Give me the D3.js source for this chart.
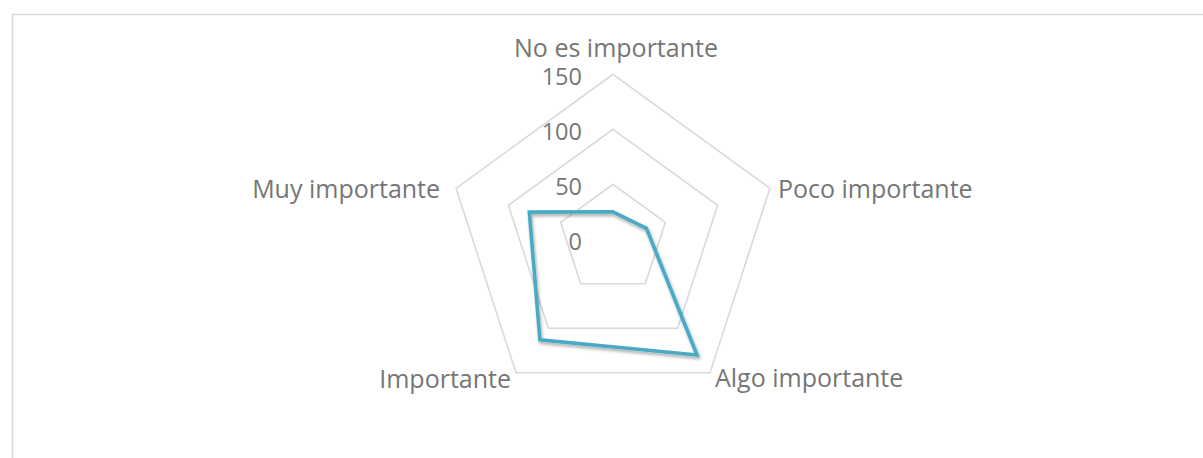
<!DOCTYPE html>
<html>
<head>
<meta charset="utf-8">
<script src="https://cdn.jsdelivr.net/npm/d3@7"></script>
<style>
  html, body { margin: 0; padding: 0; background: #ffffff; }
  svg { display: block; }
</style>
</head>
<body>
<svg id="chart" width="1203" height="458"></svg>
<script>
// Radar categories (clockwise from the top) and the single series
const categories = ["No es importante", "Poco importante", "Algo importante", "Importante", "Muy importante"];
const values = [25, 32, 130, 113, 80];
const tickValues = [0, 50, 100, 150];
const tickLabels = ["0", "50", "100", "150"];

const width = 1203, height = 458;
const cx = 613, cy = 239.3, maxR = 165;
const font = "'Open Sans', 'DejaVu Sans', sans-serif";
const textColor = "#767676";
const gridColor = "#d9d9d9";
const lineColor = "#4aaac5";

const svg = d3.select("#chart");

// soft shadow under the series line
const defs = svg.append("defs");
const f = defs.append("filter").attr("id", "shadow")
  .attr("x", "-20%").attr("y", "-20%").attr("width", "140%").attr("height", "140%");
f.append("feDropShadow").attr("dx", 1.2).attr("dy", 2.4)
  .attr("stdDeviation", 1.8).attr("flood-color", "#000").attr("flood-opacity", 0.32);

// chart area border (runs off the right and bottom edges)
svg.append("rect")
  .attr("x", 12.5).attr("y", 14.5)
  .attr("width", width + 20).attr("height", height + 20)
  .attr("fill", "none").attr("stroke", gridColor).attr("stroke-width", 1.5);

const r = d3.scaleLinear().domain([0, 150]).range([0, maxR]);
const angle = d3.scalePoint().domain(categories).range([0, 2 * Math.PI * (categories.length - 1) / categories.length]);

const pt = (cat, v) => {
  const a = angle(cat);
  return [cx + r(v) * Math.sin(a), cy - r(v) * Math.cos(a)];
};

// concentric pentagon gridlines
const g = svg.append("g");
tickValues.filter(t => t > 0).forEach(t => {
  g.append("polygon")
    .attr("points", categories.map(c => pt(c, t).join(",")).join(" "))
    .attr("fill", "none")
    .attr("stroke", gridColor)
    .attr("stroke-width", 1.6);
});

// value axis labels along the top spoke
g.selectAll(".tick").data(tickValues).join("text")
  .attr("class", "tick")
  .attr("x", cx - 31)
  .attr("y", d => cy - r(d) + 1.5)
  .attr("text-anchor", "end")
  .attr("dominant-baseline", "central")
  .attr("font-family", font)
  .attr("font-size", 23.5)
  .attr("fill", textColor)
  .text((d, i) => tickLabels[i]);

// series line
const line = d3.lineRadial()
  .angle(d => angle(d.cat))
  .radius(d => r(d.v))
  .curve(d3.curveLinearClosed);
svg.append("path")
  .datum(categories.map((c, i) => ({ cat: c, v: values[i] })))
  .attr("transform", `translate(${cx},${cy})`)
  .attr("d", line)
  .attr("fill", "none")
  .attr("stroke", lineColor)
  .attr("stroke-width", 3.6)
  .attr("stroke-linejoin", "miter")
  .attr("filter", "url(#shadow)");

// category labels around the outer ring
const labelPlace = {
  "No es importante": { dx: 3, dy: -27, anchor: "middle" },
  "Poco importante": { dx: 8, dy: 0, anchor: "start" },
  "Algo importante": { dx: 5, dy: 4.5, anchor: "start" },
  "Importante": { dx: -5, dy: 5, anchor: "end" },
  "Muy importante": { dx: -16, dy: 0, anchor: "end" }
};
svg.selectAll(".cat").data(categories).join("text")
  .attr("class", "cat")
  .attr("x", d => pt(d, 150)[0] + labelPlace[d].dx)
  .attr("y", d => pt(d, 150)[1] + labelPlace[d].dy)
  .attr("text-anchor", d => labelPlace[d].anchor)
  .attr("dominant-baseline", "central")
  .attr("font-family", font)
  .attr("font-size", 25)
  .attr("fill", textColor)
  .text(d => d);
</script>
</body>
</html>
